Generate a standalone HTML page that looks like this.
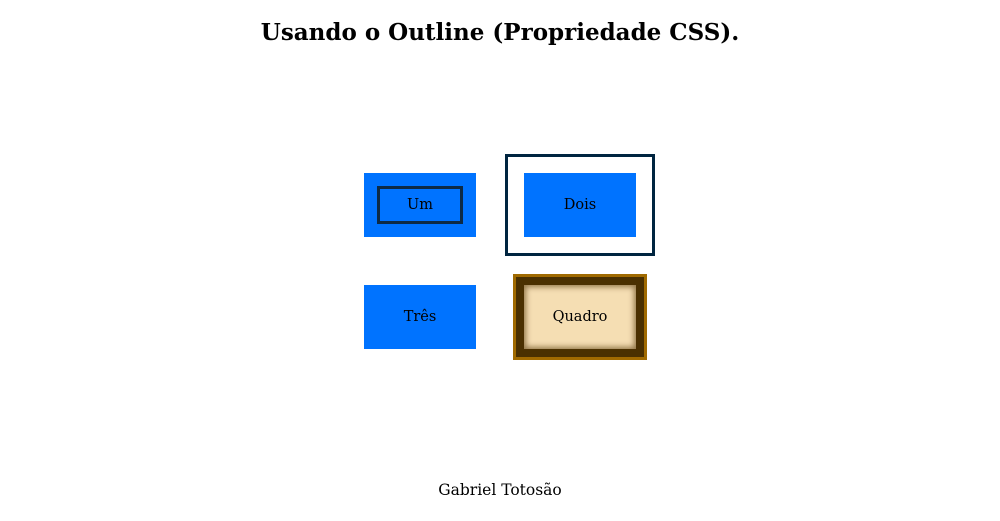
<!DOCTYPE html>
<html><head><meta charset="utf-8"><style>
body{margin:0;width:1000px;height:521px;background:#fff;position:relative;font-family:"DejaVu Serif","Liberation Serif",serif;color:#000;overflow:hidden}
h1{position:absolute;top:16px;left:0;width:1000px;margin:0;text-align:center;font-size:23px;font-weight:bold;line-height:34px}
.b{position:absolute;width:112px;height:64px;background:#0073ff;font-size:14.5px;display:flex;align-items:center;justify-content:center;box-sizing:border-box}
.foot{position:absolute;top:481px;left:0;width:1000px;text-align:center;font-size:15.5px}
</style></head><body>
<h1>Usando o Outline (Propriedade CSS).</h1>
<div class="b" style="left:364px;top:173px"><div style="position:absolute;left:13px;top:13px;width:86px;height:38px;border:3px solid #0d2a45;box-sizing:border-box"></div>Um</div>
<div style="position:absolute;left:505px;top:154px;width:150px;height:102px;border:3px solid #002540;box-sizing:border-box"></div>
<div class="b" style="left:524px;top:173px">Dois</div>
<div class="b" style="left:364px;top:285px">Três</div>
<div style="position:absolute;left:513px;top:274px;width:134px;height:86px;background:#a06a00"></div>
<div style="position:absolute;left:516px;top:277px;width:128px;height:80px;background:#4a3000"></div>
<div class="b" style="left:524px;top:285px;background:#f5deb3;box-shadow:inset 0 0 6px 2px rgba(80,50,0,0.6)">Quadro</div>
<div class="foot">Gabriel Totosão</div>
</body></html>
